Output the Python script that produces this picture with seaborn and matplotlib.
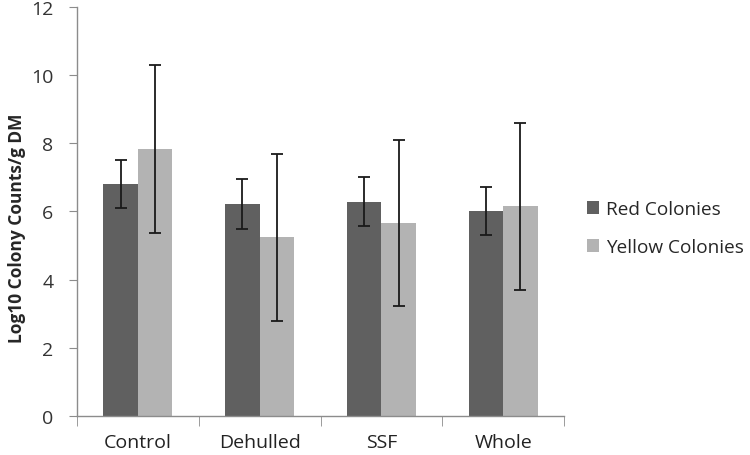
import matplotlib
matplotlib.use('Agg')
import matplotlib.pyplot as plt
import seaborn as sns
import pandas as pd
import numpy as np

# 데이터
categories = ['Control', 'Dehulled', 'SSF', 'Whole']
series_names = ['Red Colonies', 'Yellow Colonies']
red_means = [6.80, 6.22, 6.29, 6.01]
red_err = [0.71, 0.72, 0.71, 0.70]
yellow_means = [7.83, 5.24, 5.67, 6.16]
yellow_err = [2.46, 2.45, 2.44, 2.45]
y_ticks = [0, 2, 4, 6, 8, 10, 12]

sns.set_style('white')
plt.rcParams['font.family'] = ['Open Sans', 'DejaVu Sans']

df = pd.DataFrame({
    'cat': categories * 2,
    'series': [series_names[0]] * 4 + [series_names[1]] * 4,
    'value': red_means + yellow_means,
})

fig = plt.figure(figsize=(7.5, 4.56), dpi=100)
ax = fig.add_axes([0.1027, 0.0855, 0.6493, 0.897])

palette = {series_names[0]: '#606060', series_names[1]: '#b3b3b3'}
sns.barplot(data=df, x='cat', y='value', hue='series', order=categories,
            hue_order=series_names, palette=palette, errorbar=None,
            width=0.566, gap=0, saturation=1, linewidth=0, ax=ax)

# 오차 막대
for cont, errs in zip(ax.containers, [red_err, yellow_err]):
    xs = [p.get_x() + p.get_width() / 2 for p in cont]
    hs = [p.get_height() for p in cont]
    ax.errorbar(xs, hs, yerr=errs, fmt='none', ecolor='#1a1a1a',
                elinewidth=1.3, capsize=4, capthick=1.3, zorder=5)

ax.set_xlim(-0.5, 3.5)
ax.set_ylim(0, 12)
ax.set_yticks(y_ticks)
ax.set_xlabel('')
ax.set_ylabel('Log10 Colony Counts/g DM', fontsize=12.5, fontweight='bold')
ax.yaxis.set_label_coords(0.035, 0.5, transform=fig.transFigure)

# 축 스타일
for s in ['top', 'right']:
    ax.spines[s].set_visible(False)
for s in ['left', 'bottom']:
    ax.spines[s].set_color('#8c8c8c')
    ax.spines[s].set_linewidth(1)

ax.tick_params(axis='y', left=True, length=6, color='#8c8c8c', labelsize=14,
               labelcolor='#333333', pad=11)
ax.set_xticks(range(len(categories)))
ax.set_xticklabels(categories)
ax.set_xticks([-0.5, 0.5, 1.5, 2.5, 3.5], minor=True)
ax.tick_params(axis='x', which='major', bottom=False, labelsize=14,
               labelcolor='#222222', pad=9)
ax.tick_params(axis='x', which='minor', bottom=True, length=7, color='#8c8c8c')

# 범례
handles, labels = ax.get_legend_handles_labels()
ax.legend(handles, labels, loc='center left', bbox_to_anchor=(0.772, 0.497),
          bbox_transform=fig.transFigure, frameon=False, fontsize=13.7,
          handlelength=0.65, handleheight=0.65, handletextpad=0.35,
          labelspacing=1.05, borderaxespad=0)

fig.savefig('out.png', dpi=100)
